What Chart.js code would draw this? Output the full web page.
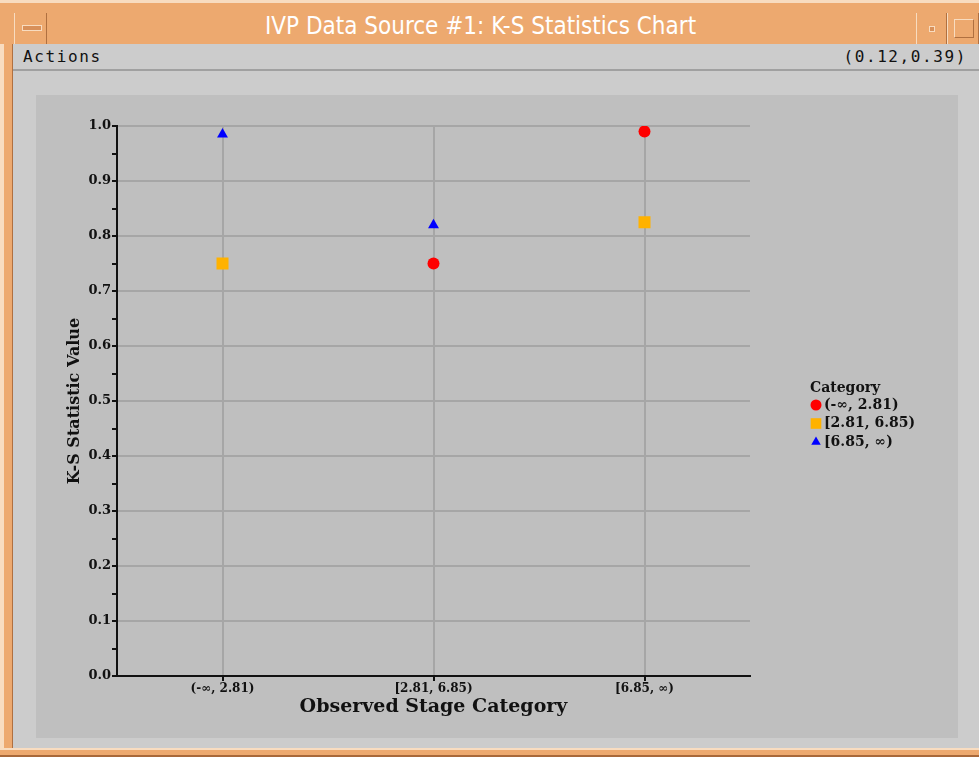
<!DOCTYPE html>
<html>
<head>
<meta charset="utf-8">
<script src="https://cdn.jsdelivr.net/npm/chart.js@4.4.0/dist/chart.umd.min.js"></script>
<style>
  html, body { margin: 0; padding: 0; }
  body { width: 979px; height: 757px; background: #cccccc; position: relative; overflow: hidden; }
  .frame { position: absolute; background: #eda96f; }
  #titlebar { left: 0; top: 0; width: 979px; height: 44px; border-top: 3px solid #f8dcc0; box-sizing: border-box; }
  #title { position: absolute; left: 46px; right: 64px; top: 9px; text-align: center; color: #fff;
           font-family: "DejaVu Sans Condensed", "Liberation Sans Narrow", "DejaVu Sans", sans-serif; font-size: 24px; }
  .btn { position: absolute; top: 10px; height: 31px; border-left: 1px solid #f8dcc0; border-right: 1px solid #b07040; box-sizing: border-box; }
  #leftframe { left: 0; top: 0; width: 13px; height: 757px; border-left: 4px solid #f8dcc0; box-sizing: border-box; border-right: 1px solid #b07040; }
  #bottomframe { left: 0; top: 748px; width: 979px; height: 9px; border-top: 2px solid #f8dcc0; border-bottom: 2px solid #a8683a; box-sizing: border-box; }
  #menubar { position: absolute; left: 13px; top: 44px; width: 966px; height: 27px; border-bottom: 2px solid #a0a0a0; box-sizing: border-box;
             font-family: "DejaVu Sans Mono", monospace; font-size: 16px; letter-spacing: 1.6px; color: #111; }
  #panel { position: absolute; left: 36px; top: 95px; width: 922px; height: 643px; background: #bfbfbf; }
</style>
</head>
<body>
<div class="frame" id="leftframe"></div>
<div class="frame" id="titlebar">
  <div class="btn" style="left:14px;width:33px;"><div style="position:absolute;left:7px;top:12px;width:18px;height:4px;background:#d8905a;border:1px solid #f8dcc0;"></div></div>
  <div id="title">IVP Data Source #1: K-S Statistics Chart</div>
  <div class="btn" style="left:916px;width:31px;"><div style="position:absolute;left:12px;top:13px;width:4px;height:4px;background:#d8905a;border:1px solid #f8dcc0;"></div></div>
  <div class="btn" style="left:947px;width:32px;"><div style="position:absolute;left:6px;top:6px;width:18px;height:17px;border:1px solid #f8dcc0;border-right-color:#b07040;border-bottom-color:#b07040;"></div></div>
</div>
<div id="menubar">
  <span style="position:absolute;left:10px;top:3px;">Actions</span>
  <span style="position:absolute;right:12px;top:3px;">(0.12,0.39)</span>
</div>
<div class="frame" id="bottomframe"></div>
<div id="panel"><canvas id="ksChart" width="922" height="643"></canvas></div>
<script>
const categories = ['(-\u221e, 2.81)', '[2.81, 6.85)', '[6.85, \u221e)'];
const seriesNames = ['(-\u221e, 2.81)', '[2.81, 6.85)', '[6.85, \u221e)'];
const redValues = [null, 0.75, 0.99];
const orangeValues = [0.75, null, 0.825];
const blueValues = [0.985, 0.82, null];
const yMin = 0;
const yMax = 1.0;
const yStep = 0.05;

function series(label, data, color, style, radius) {
    return {
        label: label,
        data: data,
        showLine: false,
        backgroundColor: color,
        borderColor: color,
        pointStyle: style,
        pointRadius: radius,
        pointHoverRadius: radius,
        pointBorderWidth: 0
    };
}

// legend on the right with a "Category" heading
const sideLegend = {
    id: 'sideLegend',
    afterDraw(chart) {
        const ctx = chart.ctx;
        const area = chart.chartArea;
        const x0 = area.right + 60;
        const yc = (area.top + area.bottom) / 2;
        ctx.save();
        ctx.fillStyle = '#111';
        ctx.font = 'bold 14px "DejaVu Serif", serif';
        ctx.textBaseline = 'middle';
        ctx.textAlign = 'left';
        ctx.fillText('Category', x0, yc - 13);
        chart.data.datasets.forEach((ds, i) => {
            const y = yc + 4 + i * 18.5;
            ctx.fillStyle = ds.backgroundColor;
            const r = ds.pointStyle === 'rect' ? 7.5 : 5.5;
            Chart.helpers.drawPoint(ctx, {pointStyle: ds.pointStyle, radius: r, rotation: 0, borderWidth: 0}, x0 + 6, y);
            ctx.fillStyle = '#111';
            ctx.font = 'bold 14px "DejaVu Serif", serif';
            ctx.fillText(ds.label, x0 + 14, y);
        });
        ctx.restore();
    }
};

const ctx = document.getElementById('ksChart').getContext('2d');
new Chart(ctx, {
    type: 'line',
    data: {
        labels: categories,
        datasets: [
            series(seriesNames[0], redValues, '#ff0000', 'circle', 6),
            series(seriesNames[1], orangeValues, '#ffb200', 'rect', 8.5),
            series(seriesNames[2], blueValues, '#0000ff', 'triangle', 6.3)
        ]
    },
    options: {
        responsive: false,
        animation: false,
        layout: { padding: { left: 0, top: 31, right: 208, bottom: 0 } },
        plugins: {
            legend: { display: false },
            tooltip: { enabled: false }
        },
        scales: {
            x: {
                type: 'category',
                offset: true,
                afterFit: s => { s.height = 62; },
                border: { color: '#111', width: 2 },
                grid: { color: '#a6a6a6', lineWidth: 2, tickColor: '#111', tickLength: 5 },
                ticks: { color: '#111', padding: 1, font: { family: '"DejaVu Serif", serif', weight: 'bold', size: 12 } },
                title: {
                    display: true,
                    text: 'Observed Stage Category',
                    color: '#111',
                    padding: { top: 0, bottom: 20 },
                    font: { family: '"DejaVu Serif", serif', weight: 'bold', size: 19 }
                }
            },
            y: {
                min: yMin,
                max: yMax,
                afterFit: s => { s.width = 81; },
                border: { color: '#111', width: 2 },
                grid: {
                    color: c => (Math.round(c.tick.value * 100) % 10 === 0 ? '#a6a6a6' : 'rgba(0,0,0,0)'),
                    lineWidth: 2,
                    tickColor: '#111',
                    tickLength: 5
                },
                ticks: {
                    stepSize: yStep,
                    color: '#111',
                    padding: 1,
                    font: { family: '"DejaVu Serif", serif', weight: 'bold', size: 13 },
                    callback: v => (Math.round(v * 100) % 10 === 0 ? v.toFixed(1) : '')
                },
                title: {
                    display: true,
                    text: 'K-S Statistic Value',
                    color: '#111',
                    padding: { top: 29, bottom: 0 },
                    font: { family: '"DejaVu Serif", serif', weight: 'bold', size: 16 }
                }
            }
        }
    },
    plugins: [sideLegend]
});
</script>
</body>
</html>
